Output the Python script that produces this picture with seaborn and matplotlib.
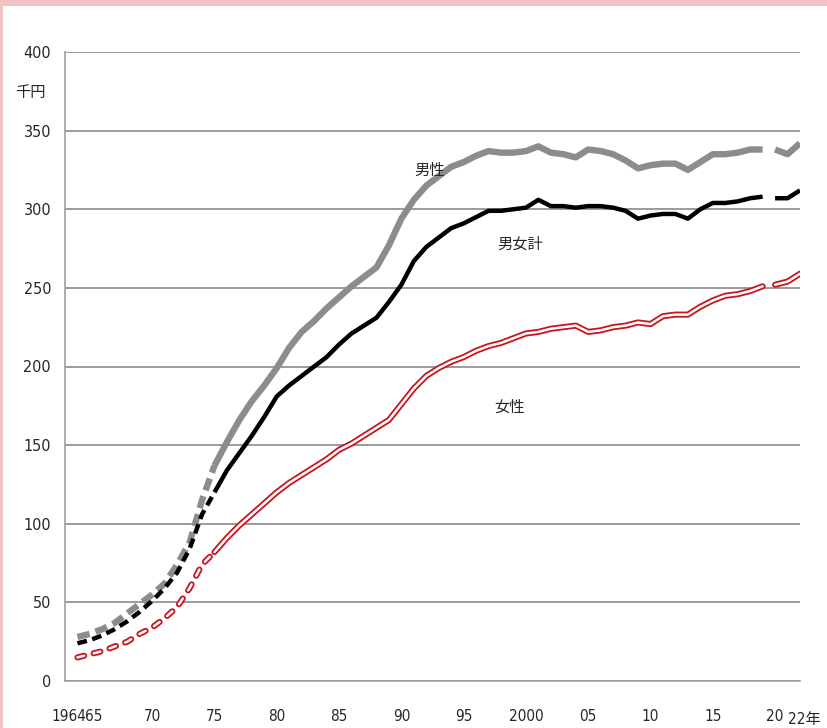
import matplotlib
matplotlib.use("Agg")
import matplotlib.pyplot as plt
import matplotlib.patheffects as pe
import matplotlib.transforms as mtransforms
from matplotlib.patches import Rectangle
import pandas as pd
import seaborn as sns

years = list(range(1964, 2023))
male = [28, 30, 33, 37, 43, 49, 55, 62, 74, 88, 115, 137, 152, 166, 178, 188, 199, 212, 222, 229,
        237, 244, 251, 257, 263, 277, 294, 306, 315, 321, 327, 330, 334, 337, 336, 336, 337, 340, 336, 335,
        333, 338, 337, 335, 331, 326, 328, 329, 329, 325, 330, 335, 335, 336, 338, 338, 338, 335, 342]
total = [24, 26, 29, 33, 38, 44, 51, 59, 69, 84, 106, 120, 134, 145, 156, 168, 181, 188, 194, 200,
         206, 214, 221, 226, 231, 241, 252, 267, 276, 282, 288, 291, 295, 299, 299, 300, 301, 306, 302, 302,
         301, 302, 302, 301, 299, 294, 296, 297, 297, 294, 300, 304, 304, 305, 307, 308, 307, 307, 312]
female = [15, 17, 19, 22, 25, 30, 34, 40, 47, 59, 74, 82, 91, 99, 106, 113, 120, 126, 131, 136,
          141, 147, 151, 156, 161, 166, 176, 186, 194, 199, 203, 206, 210, 213, 215, 218, 221, 222, 224, 225,
          226, 222, 223, 225, 226, 228, 227, 232, 233, 233, 238, 242, 245, 246, 248, 251, 252, 254, 259]

tick_pos = [1964, 1965, 1970, 1975, 1980, 1985, 1990, 1995, 2000, 2005, 2010, 2015, 2020, 2022]
tick_lab = ["1964", "65", "70", "75", "80", "85", "90", "95", "2000", "05", "10", "15", "20", "22年"]

df = pd.DataFrame({"year": years, "男性": male, "男女計": total, "女性": female})
df = df.melt(id_vars="year", var_name="series", value_name="value")

# segments: dashed before 1975, solid 1975-2019, break, solid 2020-
segments = [((1964, 1975), "dash"), ((1975, 2019), "solid"), ((2020, 2022), "solid")]

sns.set_style("white")
plt.rcParams["font.family"] = ["DejaVu Sans", "Noto Sans CJK JP"]
plt.rcParams["font.stretch"] = "condensed"
plt.rcParams["lines.scale_dashes"] = False

fig = plt.figure(figsize=(8.27, 7.28), dpi=100, facecolor="#f0c2c4")
fig.patches.append(Rectangle((3 / 827, 0), 1, 722 / 728, transform=fig.transFigure,
                             facecolor="white", edgecolor="none", zorder=-10))
ax = fig.add_axes([65 / 827, 47 / 728, 735 / 827, 629 / 728])
ax.set_facecolor("none")

styles = {
    "男性": dict(color="#8c8c8c", linewidth=4.6, dash=(0, (9, 4.5))),
    "男女計": dict(color="black", linewidth=3.2, dash=(0, (7, 4))),
}

for name in ["男性", "男女計"]:
    st = styles[name]
    for (a, b), kind in segments:
        sub = df[(df.series == name) & (df.year >= a) & (df.year <= b)]
        sns.lineplot(data=sub, x="year", y="value", ax=ax, color=st["color"],
                     linewidth=st["linewidth"], linestyle=st["dash"] if kind == "dash" else "-",
                     solid_joinstyle="round", solid_capstyle="butt", dash_capstyle="butt")

# female: double red line (red outline, white core)
for (a, b), kind in segments:
    sub = df[(df.series == "女性") & (df.year >= a) & (df.year <= b)]
    sns.lineplot(data=sub, x="year", y="value", ax=ax, color="white", linewidth=1.8,
                 linestyle=(0, (5, 7)) if kind == "dash" else "-",
                 solid_capstyle="round", dash_capstyle="round", solid_joinstyle="round",
                 path_effects=[pe.Stroke(linewidth=4.4, foreground="#c8141e"), pe.Normal()])

ax.set_xlim(1963, 2022)
ax.set_ylim(0, 400)
ax.set_yticks(range(0, 401, 50))
ax.yaxis.grid(True, color="#8a8a8a", linewidth=1.2)
ax.set_axisbelow(True)
for s in ["top", "right"]:
    ax.spines[s].set_visible(False)
for s in ["left", "bottom"]:
    ax.spines[s].set_color("#a0a0a0")
    ax.spines[s].set_linewidth(1.2)

ax.set_xticks(tick_pos)
ax.set_xticklabels(tick_lab)
ax.set_xticks(years, minor=True)
ax.tick_params(axis="x", which="both", direction="out", length=5, color="#909090", width=1)
ax.tick_params(axis="x", which="major", pad=15, labelsize=11)
ax.tick_params(axis="y", length=0, pad=10, labelsize=11.5)
ax.set_xlabel("")
ax.set_ylabel("")

labels = ax.get_xticklabels()
labels[0].set_transform(labels[0].get_transform() + mtransforms.ScaledTranslation(-9 / 100, 0, fig.dpi_scale_trans))
labels[1].set_transform(labels[1].get_transform() + mtransforms.ScaledTranslation(4 / 100, 0, fig.dpi_scale_trans))
labels[-1].set_transform(labels[-1].get_transform() + mtransforms.ScaledTranslation(4 / 100, -3 / 100, fig.dpi_scale_trans))

fig.text(30 / 827, 1 - 93 / 728, "千円", ha="center", va="center", fontsize=11)
ax.text(1992.3, 325, "男性", ha="center", va="center", fontsize=11)
ax.text(1999.5, 278, "男女計", ha="center", va="center", fontsize=11)
ax.text(1998.7, 174, "女性", ha="center", va="center", fontsize=11)

fig.savefig("out.png", dpi=100, facecolor=fig.get_facecolor())
